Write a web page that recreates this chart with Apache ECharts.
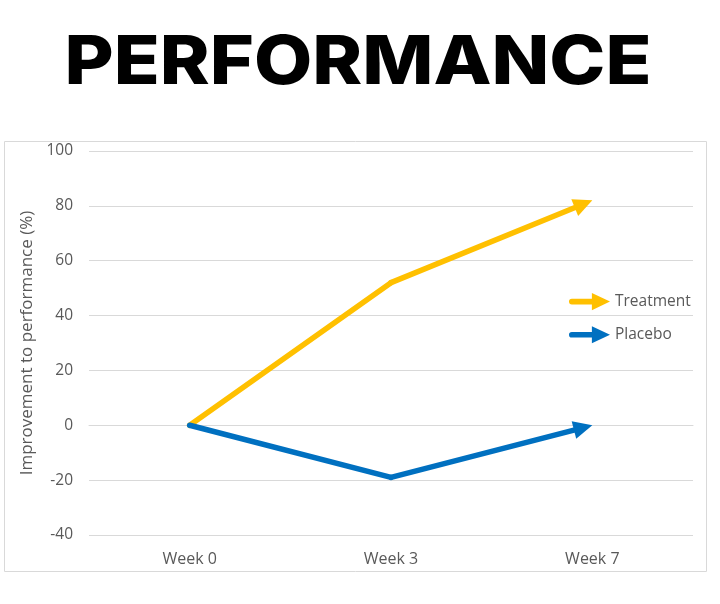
<!DOCTYPE html>
<html><head><meta charset="utf-8">
<script src="https://cdn.jsdelivr.net/npm/echarts@6/dist/echarts.min.js"></script>
<style>html,body{margin:0;padding:0;background:#fff}#c{width:720px;height:604px}</style>
</head><body><div id="c"></div>
<script>
const categories = ['Week 0', 'Week 3', 'Week 7'];
const treatment = [0, 52, 82];
const placebo = [0, -19, 0];
const yTicks = { min: -40, max: 100, interval: 20 };
const titleText = 'PERFORMANCE';
const yName = 'Improvement to performance (%)';

const chart = echarts.init(document.getElementById('c'));
const arrowIcon = 'path://M3,6 L24,6 L24,0 L43,9 L24,18 L24,12 L3,12 A3,3 0 0 1 3,6 Z';
const ARROW_W = 18, ARROW_L = 19, LINE_W = 5.5;

// segments [x0, y0, x1, y1, isLast] built from the series arrays
function segments(arr){
  const out = [];
  for (let i = 0; i < arr.length - 1; i++) out.push([i, arr[i], i + 1, arr[i + 1], i === arr.length - 2 ? 1 : 0]);
  return out;
}
function arrowSeries(name, arr, color){
  return {
    name, type: 'custom', coordinateSystem: 'cartesian2d',
    encode: { x: [0, 2], y: [1, 3] },
    itemStyle: { color },
    data: segments(arr),
    renderItem: function(params, api){
      const p0 = api.coord([api.value(0), api.value(1)]);
      const p1 = api.coord([api.value(2), api.value(3)]);
      const last = api.value(4) === 1;
      const dx = p1[0] - p0[0], dy = p1[1] - p0[1];
      const len = Math.hypot(dx, dy), ux = dx / len, uy = dy / len;
      const children = [];
      let e = p1;
      if (last) e = [p1[0] - ux * (ARROW_L - 1), p1[1] - uy * (ARROW_L - 1)];
      children.push({ type: 'line', shape: { x1: p0[0], y1: p0[1], x2: e[0], y2: e[1] },
        style: { stroke: color, lineWidth: LINE_W, lineCap: 'round' } });
      if (last) {
        const bx = p1[0] - ux * ARROW_L, by = p1[1] - uy * ARROW_L;
        const nx = -uy * ARROW_W / 2, ny = ux * ARROW_W / 2;
        children.push({ type: 'polygon',
          shape: { points: [[p1[0], p1[1]], [bx + nx, by + ny], [bx - nx, by - ny]] },
          style: { fill: color } });
      }
      return { type: 'group', children };
    }
  };
}
chart.setOption({
  animation: false,
  graphic: [
    { type: 'rect', shape: { x: 4.5, y: 141.5, width: 702, height: 430 },
      style: { fill: 'none', stroke: '#d9d9d9', lineWidth: 1 }, z: -1 },
    { type: 'text', x: 358, y: 30, scaleX: 1.11, scaleY: 1,
      style: { text: titleText, fill: '#000', font: '800 68px Inter', textAlign: 'center', textVerticalAlign: 'top' } }
  ],
  grid: { left: 89, right: 27, top: 151, bottom: 69 },
  legend: {
    orient: 'vertical', left: 564, top: 288, itemGap: 16, itemWidth: 41, itemHeight: 18,
    textStyle: { fontFamily: 'Open Sans', fontSize: 15.5, color: '#595959' },
    data: [{ name: 'Treatment', icon: arrowIcon }, { name: 'Placebo', icon: arrowIcon }]
  },
  xAxis: { type: 'category', data: categories, boundaryGap: true,
    axisLine: { lineStyle: { color: '#d9d9d9', width: 1 } }, axisTick: { show: false },
    axisLabel: { fontFamily: 'Open Sans', fontSize: 16, color: '#595959', margin: 16 } },
  yAxis: { type: 'value', min: yTicks.min, max: yTicks.max, interval: yTicks.interval,
    name: yName, nameLocation: 'middle', nameGap: 52,
    nameTextStyle: { fontFamily: 'Open Sans', fontSize: 17, color: '#595959' },
    axisLine: { show: false }, axisTick: { show: false },
    splitLine: { lineStyle: { color: '#d9d9d9', width: 1 } },
    axisLabel: { fontFamily: 'Open Sans', fontSize: 15.5, color: '#595959', margin: 16 } },
  series: [
    arrowSeries('Treatment', treatment, '#FFC000'),
    arrowSeries('Placebo', placebo, '#0070C0')
  ]
});
</script></body></html>
